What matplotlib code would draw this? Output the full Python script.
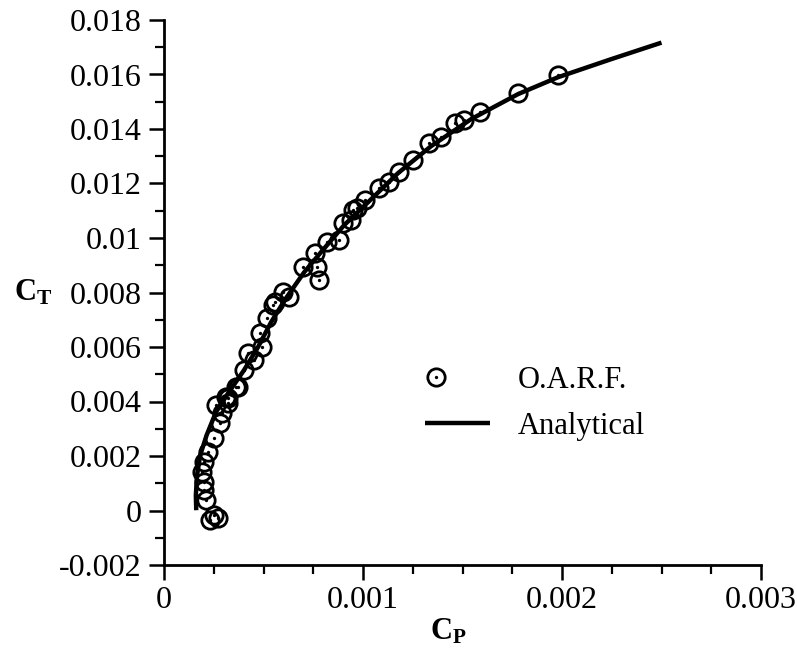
import numpy as np
import matplotlib
matplotlib.use('Agg')
import matplotlib.pyplot as plt
from matplotlib.legend_handler import HandlerLine2D, HandlerTuple
from matplotlib.ticker import FixedLocator, MultipleLocator

# ---- data ----
oarf_cp = [0.00198, 0.00178, 0.00159, 0.00151, 0.00146, 0.00139, 0.00133, 0.00125,
           0.00118, 0.00113, 0.00108, 0.00101, 0.00095, 0.00094, 0.00090, 0.00088,
           0.00082, 0.00076, 0.00077, 0.00078, 0.00070, 0.00063, 0.00056, 0.00055,
           0.00052, 0.00048, 0.00049, 0.00045, 0.00040, 0.00036, 0.00031, 0.00026,
           0.00032, 0.00029, 0.00028, 0.00025, 0.00022, 0.00020, 0.00019, 0.00020,
           0.00020, 0.00021, 0.00025, 0.00023, 0.00027,
           0.00042, 0.00037, 0.00032, 0.00060, 0.00097]
oarf_ct = [0.01597, 0.01531, 0.01461, 0.01432, 0.01421, 0.01370, 0.01348, 0.01285,
           0.01241, 0.01205, 0.01183, 0.01139, 0.01102, 0.01065, 0.01054, 0.00992,
           0.00984, 0.00944, 0.00893, 0.00845, 0.00893, 0.00783, 0.00764, 0.00753,
           0.00706, 0.00651, 0.00599, 0.00551, 0.00515, 0.00452, 0.00416, 0.00386,
           0.00394, 0.00357, 0.00320, 0.00265, 0.00214, 0.00177, 0.00140, 0.00106,
           0.00074, 0.00038, -0.00017, -0.00036, -0.00028,
           0.00578, 0.00453, 0.00413, 0.00802, 0.01110]

anal_cp = [0.000162, 0.000160, 0.000166, 0.000182, 0.000214, 0.000261, 0.000322,
           0.000402, 0.000472, 0.000538, 0.000613, 0.000704, 0.000789, 0.000905,
           0.001015, 0.001176, 0.001342, 0.001543, 0.001779, 0.00198, 0.002246, 0.0025]
anal_ct = [0.00001, 0.00056, 0.00129, 0.00203, 0.00276, 0.00361, 0.00430,
           0.00515, 0.00599, 0.00691, 0.00779, 0.00874, 0.00948, 0.01047,
           0.01124, 0.01238, 0.01337, 0.01436, 0.01528, 0.01590, 0.01656, 0.01717]

xticks = [0, 0.001, 0.002, 0.003]
xtick_labels = ['0', '0.001', '0.002', '0.003']
yticks = [-0.002, 0, 0.002, 0.004, 0.006, 0.008, 0.01, 0.012, 0.014, 0.016, 0.018]
ytick_labels = ['-0.002', '0', '0.002', '0.004', '0.006', '0.008', '0.01',
                '0.012', '0.014', '0.016', '0.018']

plt.rcParams['font.family'] = ['Liberation Serif', 'DejaVu Serif']
plt.rcParams['mathtext.fontset'] = 'custom'
plt.rcParams['mathtext.rm'] = 'Liberation Serif'
plt.rcParams['mathtext.bf'] = 'Liberation Serif:bold'
plt.rcParams['mathtext.it'] = 'Liberation Serif:italic'

W, H = 797, 659
X0, X1, YT, YB = 164, 761, 20, 565
fig = plt.figure(figsize=(W / 100, H / 100), dpi=100)
ax = fig.add_axes([X0 / W, 1 - YB / H, (X1 - X0) / W, (YB - YT) / H])

line, = ax.plot(anal_cp, anal_ct, color='black', lw=3.2, solid_capstyle='butt', zorder=2)
ring, = ax.plot(oarf_cp, oarf_ct, ls='none', marker='o', ms=12.5, mfc='none',
                mec='black', mew=2.0, zorder=3, clip_on=False)
dot, = ax.plot(oarf_cp, oarf_ct, ls='none', marker='o', ms=2.4, mfc='black',
               mec='black', mew=0, zorder=3, clip_on=False)

ax.set_xlim(0, 0.003)
ax.set_ylim(-0.002, 0.018)
ax.xaxis.set_major_locator(FixedLocator(xticks))
ax.set_xticklabels(xtick_labels)
ax.yaxis.set_major_locator(FixedLocator(yticks))
ax.set_yticklabels(ytick_labels)
ax.xaxis.set_minor_locator(MultipleLocator(0.00025))
ax.yaxis.set_minor_locator(MultipleLocator(0.001))

for s in ['top', 'right']:
    ax.spines[s].set_visible(False)
for s in ['left', 'bottom']:
    ax.spines[s].set_linewidth(2.0)

ax.tick_params(which='major', direction='out', length=11, width=1.8, labelsize=23)
ax.tick_params(which='minor', direction='out', length=6.5, width=1.6)
ax.tick_params(axis='y', which='major', pad=5)
ax.tick_params(axis='x', which='major', pad=4)

ax.set_xlabel(r'$\mathbf{C_P}$', fontsize=22)
ax.set_ylabel(r'$\mathbf{C_T}$', fontsize=22, rotation=0)
ax.xaxis.set_label_coords((448 - X0) / (X1 - X0), -(632 - YB) / (YB - YT))
ax.yaxis.set_label_coords((33 - X0) / (X1 - X0), (YB - 293) / (YB - YT))
ax.xaxis.label.set_va('center')
ax.yaxis.label.set_va('center')
ax.yaxis.label.set_ha('center')


class LeftMarker(HandlerLine2D):
    def get_xdata(self, legend, xdescent, ydescent, width, height, fontsize):
        x = -xdescent + width * 0.17
        return np.array([x]), np.array([x])


leg = ax.legend([(ring, dot), line], ['O.A.R.F.', 'Analytical'],
                handler_map={tuple: HandlerTuple(ndivide=1, pad=0),
                             ring: LeftMarker(), dot: LeftMarker()},
                frameon=False, loc='upper left',
                bbox_to_anchor=(425 / W, 1 - 366 / H), bbox_transform=fig.transFigure,
                borderpad=0, borderaxespad=0, handlelength=2.13, handletextpad=0.92,
                labelspacing=0.55, fontsize=22)

fig.savefig('out.png', dpi=100)
